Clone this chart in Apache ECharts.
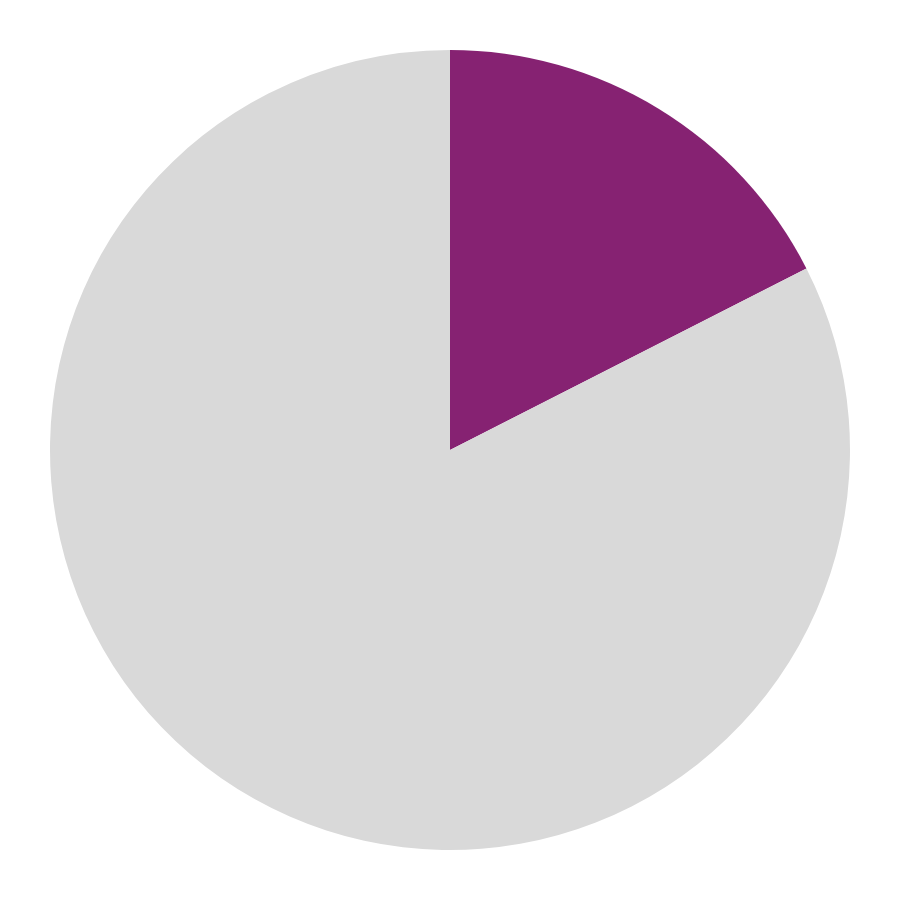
<!DOCTYPE html>
<html>
<head>
<meta charset="utf-8">
<script src="https://cdn.jsdelivr.net/npm/echarts@6/dist/echarts.min.js"></script>
<style>html,body{margin:0;padding:0;background:#fff}#c{width:900px;height:900px}</style>
</head>
<body>
<div id="c"></div>
<script>
var categories = ['Share', 'Rest'];
var values = [17.5, 82.5];
var colors = ['#862272', '#d9d9d9'];
var chart = echarts.init(document.getElementById('c'), null, {renderer: 'canvas'});
chart.setOption({
  animation: false,
  series: [{
    type: 'pie',
    center: [450, 450],
    radius: [0, 400],
    startAngle: 90,
    clockwise: true,
    label: {show: false},
    labelLine: {show: false},
    emphasis: {disabled: true},
    itemStyle: {borderWidth: 0},
    data: categories.map(function (c, i) { return {name: c, value: values[i], itemStyle: {color: colors[i]}}; })
  }]
});
</script>
</body>
</html>
